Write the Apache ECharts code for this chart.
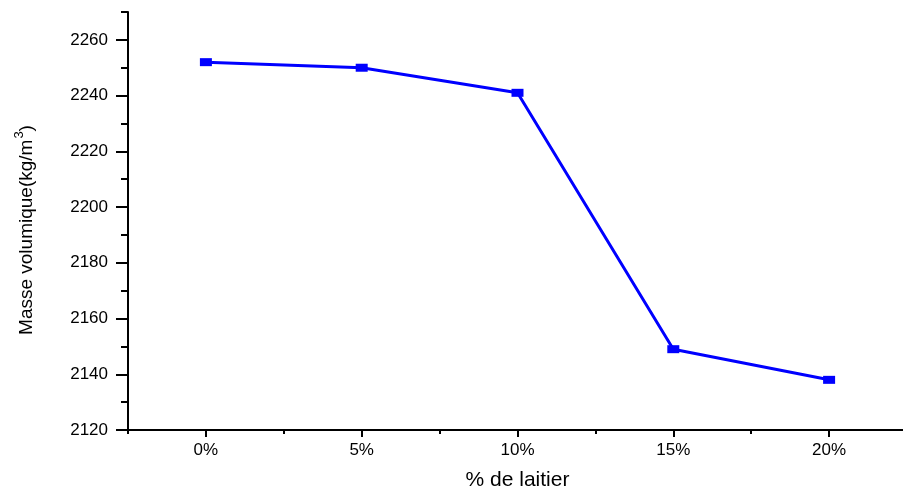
<!DOCTYPE html>
<html>
<head>
<meta charset="utf-8">
<script src="https://cdn.jsdelivr.net/npm/echarts@6/dist/echarts.min.js"></script>
<style>
  html, body { margin: 0; padding: 0; background: #fff; }
  #chart { width: 903px; height: 492px; }
</style>
</head>
<body>
<div id="chart"></div>
<script>
// Slag content (% de laitier) and measured bulk density (kg/m3)
const categories = ['0%', '5%', '10%', '15%', '20%'];
const density = [2252, 2250, 2241, 2149, 2138];
const yMajorTicks = [2120, 2140, 2160, 2180, 2200, 2220, 2240, 2260];
const yMin = 2120;
const yMax = 2270;

const FONT = '"Liberation Sans", Arial, sans-serif';
const INK = '#000';

const chart = echarts.init(document.getElementById('chart'));

chart.setOption({
  backgroundColor: '#fff',
  animation: false,
  grid: { left: 128, top: 12, right: -4, bottom: 62, containLabel: false, outerBoundsMode: 'none' },
  xAxis: [
    {
      type: 'category',
      data: categories,
      boundaryGap: true,
      position: 'bottom',
      name: '% de laitier',
      nameLocation: 'middle',
      nameGap: 40,
      nameTextStyle: { fontFamily: FONT, fontSize: 21, color: INK },
      axisLine: { show: true, lineStyle: { color: INK, width: 2 } },
      axisTick: { show: true, alignWithLabel: true, length: 7, lineStyle: { color: INK, width: 2 } },
      axisLabel: { fontFamily: FONT, fontSize: 17, color: INK, margin: 12 },
      splitLine: { show: false }
    },
    {
      // short ticks on the category boundaries
      type: 'category',
      data: categories,
      boundaryGap: true,
      position: 'bottom',
      axisLine: { show: false },
      axisTick: { show: true, length: 4, lineStyle: { color: INK, width: 2 } },
      axisLabel: { show: false },
      splitLine: { show: false }
    }
  ],
  yAxis: [
    {
      type: 'value',
      min: yMin,
      max: yMax,
      interval: 20,
      position: 'left',
      name: '{t|Masse volumique(kg/m}{s|3}{t|)}',
      nameLocation: 'middle',
      nameGap: 88,
      nameRotate: 90,
      nameTextStyle: {
        padding: [0, 18, 0, 0],
        rich: {
          t: { fontFamily: FONT, fontSize: 19, color: INK },
          s: { fontFamily: FONT, fontSize: 13, color: INK, verticalAlign: 'top', padding: [0, 0, 14, 1] }
        }
      },
      axisLine: { show: true, lineStyle: { color: INK, width: 2 } },
      axisTick: { show: true, length: 12, customValues: yMajorTicks, lineStyle: { color: INK, width: 2 } },
      axisLabel: {
        fontFamily: FONT, fontSize: 17, color: INK, margin: 20,
        customValues: yMajorTicks,
        formatter: (v) => String(v)
      },
      splitLine: { show: false }
    },
    {
      // minor ticks every 10 units
      type: 'value',
      min: yMin,
      max: yMax,
      interval: 10,
      position: 'left',
      axisLine: { show: false },
      axisTick: { show: true, length: 7, lineStyle: { color: INK, width: 2 } },
      axisLabel: { show: false },
      splitLine: { show: false }
    }
  ],
  series: [
    {
      type: 'line',
      xAxisIndex: 0,
      yAxisIndex: 0,
      data: density,
      symbol: 'rect',
      symbolSize: [12, 8],
      lineStyle: { color: '#0000ff', width: 3 },
      itemStyle: { color: '#0000ff' },
      z: 5
    }
  ]
});
</script>
</body>
</html>
